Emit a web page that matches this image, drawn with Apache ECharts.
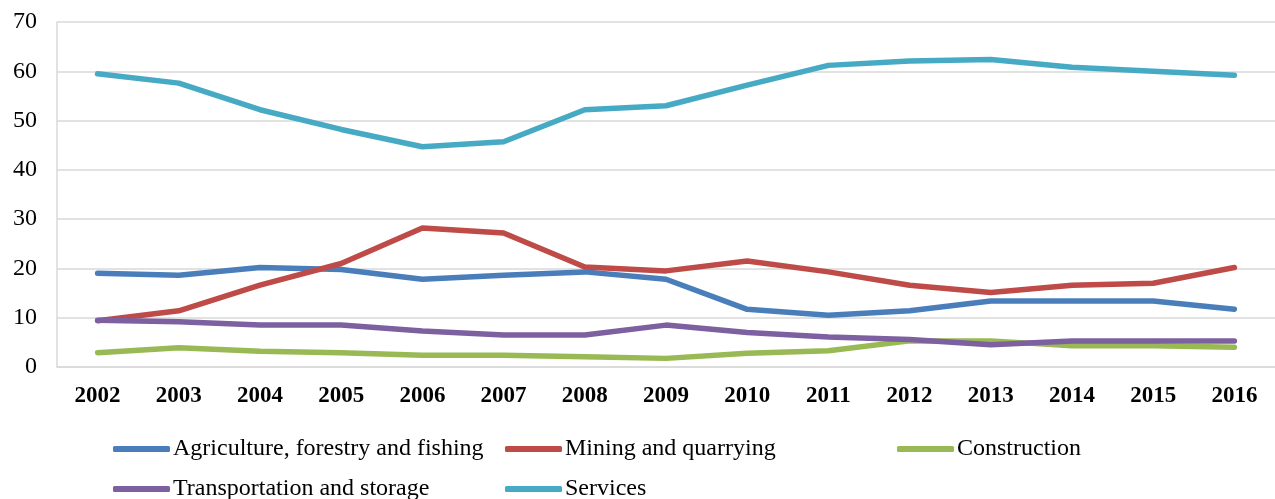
<!DOCTYPE html>
<html>
<head>
<meta charset="utf-8">
<script src="https://cdn.jsdelivr.net/npm/echarts@6/dist/echarts.min.js"></script>
<style>
  html, body { margin: 0; padding: 0; background: #ffffff; }
  #chart { width: 1275px; height: 499px; }
</style>
</head>
<body>
<div id="chart"></div>
<script>
// Share of each sector by year (%)
const years = ['2002','2003','2004','2005','2006','2007','2008','2009','2010','2011','2012','2013','2014','2015','2016'];
const agriculture    = [19.0, 18.6, 20.2, 19.8, 17.8, 18.6, 19.3, 17.8, 11.7, 10.5, 11.4, 13.4, 13.4, 13.4, 11.7];
const mining         = [9.4, 11.4, 16.6, 21.0, 28.2, 27.2, 20.3, 19.5, 21.5, 19.3, 16.6, 15.1, 16.6, 17.0, 20.2];
const construction   = [2.9, 3.9, 3.2, 2.9, 2.4, 2.4, 2.1, 1.75, 2.8, 3.3, 5.3, 5.3, 4.3, 4.3, 4.0];
const transportation = [9.5, 9.2, 8.5, 8.5, 7.3, 6.5, 6.5, 8.5, 7.0, 6.1, 5.6, 4.5, 5.3, 5.3, 5.3];
const services       = [59.5, 57.6, 52.2, 48.2, 44.7, 45.7, 52.2, 53.0, 57.2, 61.2, 62.1, 62.4, 60.8, 60.0, 59.2];
const yTicks = [0, 10, 20, 30, 40, 50, 60, 70];

const seriesDefs = [
  { name: 'Agriculture, forestry and fishing', data: agriculture,    color: '#4a7ebb' },
  { name: 'Mining and quarrying',              data: mining,         color: '#be4b48' },
  { name: 'Construction',                      data: construction,   color: '#98b954' },
  { name: 'Transportation and storage',        data: transportation, color: '#7d60a0' },
  { name: 'Services',                          data: services,       color: '#46aac5' }
];

const font = '"Liberation Serif", "Times New Roman", serif';

// one legend block per entry so the columns line up
const legendSlots = [
  { left: 113, top: 437 },
  { left: 505, top: 437 },
  { left: 897, top: 437 },
  { left: 113, top: 477 },
  { left: 505, top: 477 }
];

const chart = echarts.init(document.getElementById('chart'), null, { renderer: 'canvas' });

chart.setOption({
  backgroundColor: '#ffffff',
  animation: false,
  grid: { left: 57, right: -12, top: 22, bottom: 132, containLabel: false },
  xAxis: {
    type: 'category',
    data: years,
    boundaryGap: true,
    axisLine: { show: true, lineStyle: { color: '#d9d9d9', width: 1.5 } },
    axisTick: { show: false },
    axisLabel: {
      interval: 0,
      margin: 18,
      color: '#000000',
      fontFamily: font,
      fontWeight: 'bold',
      fontSize: 23
    },
    splitLine: { show: false }
  },
  yAxis: {
    type: 'value',
    min: yTicks[0],
    max: yTicks[yTicks.length - 1],
    interval: 10,
    axisLine: { show: true, lineStyle: { color: '#d9d9d9', width: 1.5 } },
    axisTick: { show: false },
    axisLabel: {
      margin: 20,
      color: '#000000',
      fontFamily: font,
      fontSize: 24
    },
    splitLine: { show: true, lineStyle: { color: '#d9d9d9', width: 1.5 } }
  },
  legend: seriesDefs.map((s, i) => ({
    data: [s.name],
    left: legendSlots[i].left,
    top: legendSlots[i].top,
    padding: 0,
    orient: 'horizontal',
    icon: 'roundRect',
    itemWidth: 57,
    itemHeight: 6,
    itemGap: 0,
    selectedMode: false,
    textStyle: { color: '#000000', fontFamily: font, fontSize: 24, padding: [0, 0, 0, -2] }
  })),
  series: seriesDefs.map(s => ({
    name: s.name,
    type: 'line',
    data: s.data,
    showSymbol: false,
    symbol: 'none',
    smooth: false,
    color: s.color,
    lineStyle: { color: s.color, width: 5.5, cap: 'round', join: 'round' },
    itemStyle: { color: s.color }
  }))
});
</script>
</body>
</html>
